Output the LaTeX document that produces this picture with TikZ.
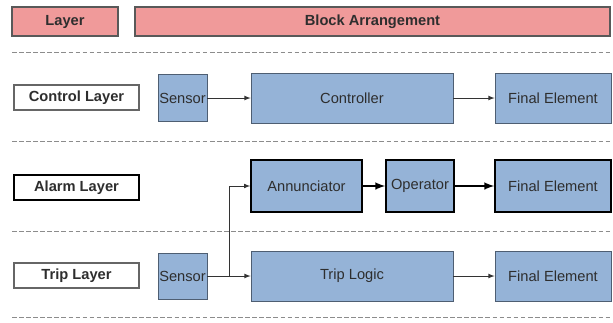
\documentclass[tikz,border=0pt]{standalone}
\usepackage{fontspec}
\setmainfont{Liberation Sans}
\definecolor{hdrpink}{HTML}{F09A9A}
\definecolor{blkblue}{HTML}{95B3D7}
\definecolor{blkline}{HTML}{4E5E72}
\definecolor{txtgray}{HTML}{2E2E2E}
\tikzset{
  hdr/.style={draw=black!65, fill=hdrpink, line width=0.8pt, minimum height=21.75pt,
    inner sep=0pt, font=\fontsize{11}{13}\selectfont\bfseries, text=txtgray},
  lyr/.style={draw=black!60, fill=white, line width=0.8pt, minimum width=93.75pt,
    minimum height=18.75pt, inner sep=0pt, font=\fontsize{11}{13}\selectfont\bfseries, text=txtgray},
  blk/.style={draw=blkline, fill=blkblue, line width=0.6pt, minimum height=37.5pt,
    inner sep=0pt, font=\fontsize{11}{13}\selectfont, text=txtgray},
  alarmblk/.style={blk, draw=black, line width=1.2pt, minimum height=39pt},
  sep/.style={draw=black!45, line width=0.7pt, dash pattern=on 3.5pt off 1.8pt},
  flow/.style={draw=black!80, line width=0.6pt, -latex},
  thickflow/.style={draw=black, line width=1.5pt, -latex}
}
\begin{document}
\begin{tikzpicture}[x=0.75pt, y=-0.75pt]
	\useasboundingbox (0,0) rectangle (613,322);

	% Kopfzeile
	\node[hdr, minimum width=79.5pt] (hlayer) at (65,21.5) {Layer};
	\node[hdr, minimum width=356.25pt] (hblock) at (372.5,21.5) {Block Arrangement};

	% Trennlinien
	\foreach \y in {52,141,231,317}
		\draw[sep] (12,\y) -- (611,\y);

	% Schichten
	\node[lyr] (lctrl) at (76.5,97.5) {Control Layer};
	\node[lyr, draw=black, line width=1.3pt] (lalarm) at (76.5,187.5) {Alarm Layer};
	\node[lyr] (ltrip) at (76.5,275.5) {Trip Layer};

	% Control Layer
	\node[blk, minimum width=36.75pt, minimum height=35.25pt] (sen1) at (182.5,98) {Sensor};
	\node[blk, minimum width=151.5pt] (ctrl) at (352,98) {Controller};
	\node[blk, minimum width=87pt] (fin1) at (553,98) {Final Element};
	\draw[flow] (sen1) -- (ctrl);
	\draw[flow] (ctrl) -- (fin1);

	% Alarm Layer
	\node[alarmblk, minimum width=83.25pt] (ann) at (306.5,186) {Annunciator};
	\node[alarmblk, minimum width=51pt] (oper) at (420,186) {Operator};
	\node[alarmblk, minimum width=87pt] (fin2) at (553,186) {Final Element};
	\draw[thickflow] (ann) -- (oper);
	\draw[thickflow] (oper) -- (fin2);

	% Trip Layer
	\node[blk, minimum width=36.75pt, minimum height=34.5pt] (sen2) at (182.5,276) {Sensor};
	\node[blk, minimum width=151.5pt] (logic) at (352,276) {Trip Logic};
	\node[blk, minimum width=87pt] (fin3) at (553,276) {Final Element};
	\coordinate (split) at (229,276);
	\draw[flow] (sen2) -- (logic);
	\draw[flow] (split) |- (ann);
	\draw[flow] (logic) -- (fin3);
\end{tikzpicture}
\end{document}
